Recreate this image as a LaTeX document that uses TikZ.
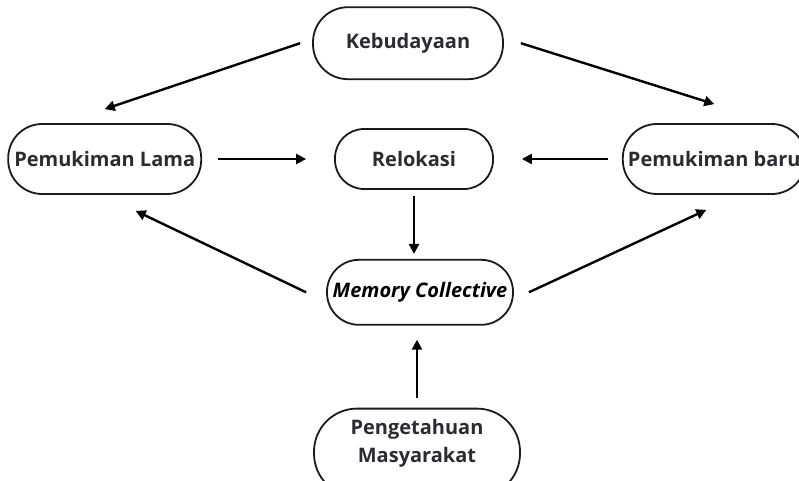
\documentclass[tikz,border=0pt]{standalone}
\usepackage{fontspec}
\setmainfont{Open Sans}
\usepackage{tikz}
\usetikzlibrary{arrows.meta,positioning}
\definecolor{inkc}{HTML}{2B2B33}
\definecolor{linec}{HTML}{1A1A1A}
\tikzset{
  pill/.style={rectangle, rounded corners=29pt, draw=linec, fill=white, line width=1.8pt,
               align=center, inner sep=0pt, text=inkc, font=\fontsize{20}{28}\selectfont\bfseries},
  arr/.style={-{Triangle[length=10pt,width=10pt]}, line width=2.4pt, draw=black},
}
\begin{document}
\begin{tikzpicture}[x=1pt,y=1pt]
  \useasboundingbox (0,0) rectangle (799,-481);
  \node[pill, minimum width=158pt, minimum height=60pt] (rel) at (414,-159) {Relokasi};
  \node[pill, minimum width=190pt, minimum height=72pt, rounded corners=35pt, above=48pt of rel, xshift=-6pt] (keb) {Kebudayaan};
  \node[pill, minimum width=193pt, minimum height=70pt, rounded corners=34pt, left=132pt of rel] (lama) {Pemukiman Lama};
  \node[pill, minimum width=183pt, minimum height=70pt, rounded corners=34pt, right=130pt of rel, xshift=-2pt] (baru) {Pemukiman baru};
  \node[pill, minimum width=186pt, minimum height=65pt, rounded corners=32pt, below=69pt of rel, xshift=6pt, text=black] (mem) {\itshape Memory Collective};
  \node[pill, minimum width=206pt, minimum height=88pt, rounded corners=43pt, text depth=23pt, below=82pt of mem, xshift=-3pt] (peng) {Pengetahuan\\Masyarakat};
  \draw[arr] ([xshift=-12pt]keb.west) -- ([yshift=14pt]lama.north);
  \draw[arr] ([xshift=17pt]keb.east) -- ([yshift=19pt]baru.north);
  \draw[arr, shorten <=16pt, shorten >=28pt] (lama) -- (rel);
  \draw[arr, shorten <=14pt, shorten >=28pt] (baru) -- (rel);
  \draw[arr, shorten <=6pt, shorten >=5pt] (rel.south) -- (rel.south |- mem.north);
  \draw[arr, shorten <=10pt, shorten >=14pt] (peng.north) -- (peng.north |- mem.south);
  \draw[arr] ([xshift=-20pt]mem.west) -- ([shift={(31pt,-16pt)}]lama.south);
  \draw[arr] ([xshift=15pt]mem.east) -- ([shift={(-8pt,-15pt)}]baru.south);
\end{tikzpicture}
\end{document}
